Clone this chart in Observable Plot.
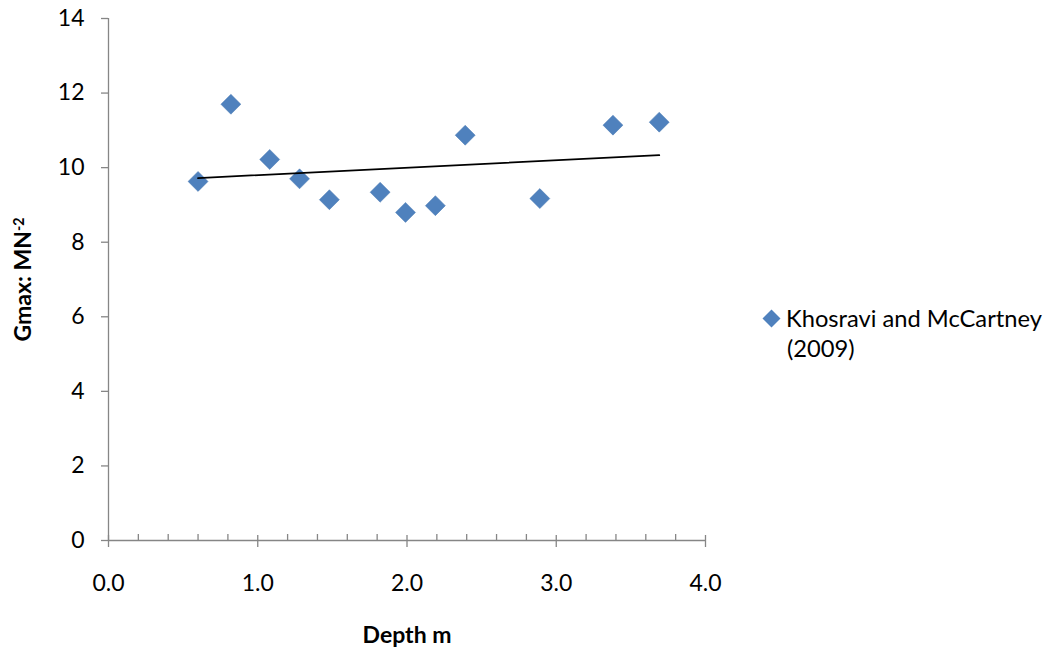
<!DOCTYPE html>
<html>
<head>
<meta charset="utf-8">
<script src="https://cdn.jsdelivr.net/npm/d3@7"></script>
<script src="https://cdn.jsdelivr.net/npm/@observablehq/plot@0.6"></script>
<style>
  body { margin: 0; background: #fff; font-family: Lato, "Open Sans", sans-serif; }
  #wrap { position: relative; width: 1053px; height: 650px; }
  #legend { position: absolute; left: 762px; top: 303px; font-size: 23.7px; line-height: 30px; color: #000; }
  #legend .row { display: flex; align-items: center; }
  #legend svg { margin-right: 5px; }
  #legend .cont { padding-left: 25px; }
</style>
</head>
<body>
<div id="wrap"></div>
<script>
const depth = [0.60, 0.82, 1.08, 1.28, 1.48, 1.82, 1.99, 2.19, 2.39, 2.89, 3.38, 3.69];
const gmax  = [9.63, 11.70, 10.22, 9.70, 9.14, 9.34, 8.80, 8.98, 10.87, 9.17, 11.14, 11.22];
const seriesName = "Khosravi and McCartney (2009)";
const xMajor = [0, 1, 2, 3, 4];
const xMinor = [0.2, 0.4, 0.6, 0.8, 1.2, 1.4, 1.6, 1.8, 2.2, 2.4, 2.6, 2.8, 3.2, 3.4, 3.6, 3.8];
const yTicks = [0, 2, 4, 6, 8, 10, 12, 14];
const xTitle = "Depth m";
const yTitle = "Gmax: MN-2";

const data = depth.map((d, i) => ({depth: d, gmax: gmax[i]}));
const axisGray = "#868686";
const blue = "#4F81BD";

const chart = Plot.plot({
  width: 1053,
  height: 650,
  marginLeft: 108,
  marginRight: 348,
  marginTop: 18,
  marginBottom: 110,
  style: {fontFamily: "Lato, 'Open Sans', sans-serif", fontSize: "23px", background: "white", color: "black"},
  x: {domain: [0, 4]},
  y: {domain: [0, 14]},
  marks: [
    Plot.ruleX([0], {stroke: axisGray, strokeWidth: 1.3}),
    Plot.ruleY([0], {stroke: axisGray, strokeWidth: 1.3}),
    Plot.ruleX(xMinor, {y1: 0, y2: 0, insetTop: -6, insetBottom: 0, stroke: axisGray, strokeWidth: 1.3}),
    Plot.ruleX(xMajor, {y1: 0, y2: 0, insetTop: -5, insetBottom: -7, stroke: axisGray, strokeWidth: 1.3}),
    Plot.axisY(yTicks, {tickSize: 7, tickPadding: 17, stroke: axisGray, fill: "black", strokeWidth: 1.3, tickFormat: d => String(d), label: null}),
    Plot.axisX(xMajor, {tickSize: 0, tickPadding: 34, fill: "black", tickFormat: d => d.toFixed(1), label: null}),
    Plot.text([xTitle], {frameAnchor: "bottom", lineAnchor: "top", textAnchor: "middle", dy: 86, fontWeight: "bold", fontSize: 23, fill: "black"}),
    Plot.text([yTitle], {frameAnchor: "left", lineAnchor: "top", textAnchor: "middle", rotate: -90, dx: -94, fontWeight: "bold", fontSize: 23, fill: "black"}),
    Plot.dot(data, {x: "depth", y: "gmax", symbol: "diamond2", r: 9, fill: blue, stroke: "#4a7ab3", strokeWidth: 0.5}),
    Plot.linearRegressionY(data, {x: "depth", y: "gmax", ci: 0, stroke: "black", strokeWidth: 1.8})
  ]
});

// superscript for the y title
d3.select(chart).selectAll("text").filter(function() { return this.textContent === yTitle; })
  .each(function() {
    const t = d3.select(this);
    t.text("Gmax: MN");
    t.append("tspan").attr("dy", "-0.45em").attr("font-size", "0.62em").text("-2");
  });

const wrap = document.getElementById("wrap");
wrap.appendChild(chart);

const legend = document.createElement("div");
legend.id = "legend";
const parts = ["Khosravi and McCartney", "(2009)"];
legend.innerHTML =
  `<div class="row"><svg width="19" height="19" viewBox="-9.5 -9.5 19 19"><path d="M0,-9L9,0L0,9L-9,0Z" fill="${blue}"/></svg><span>${parts[0]}</span></div>` +
  `<div class="cont">${parts[1]}</div>`;
wrap.appendChild(legend);
</script>
</body>
</html>
